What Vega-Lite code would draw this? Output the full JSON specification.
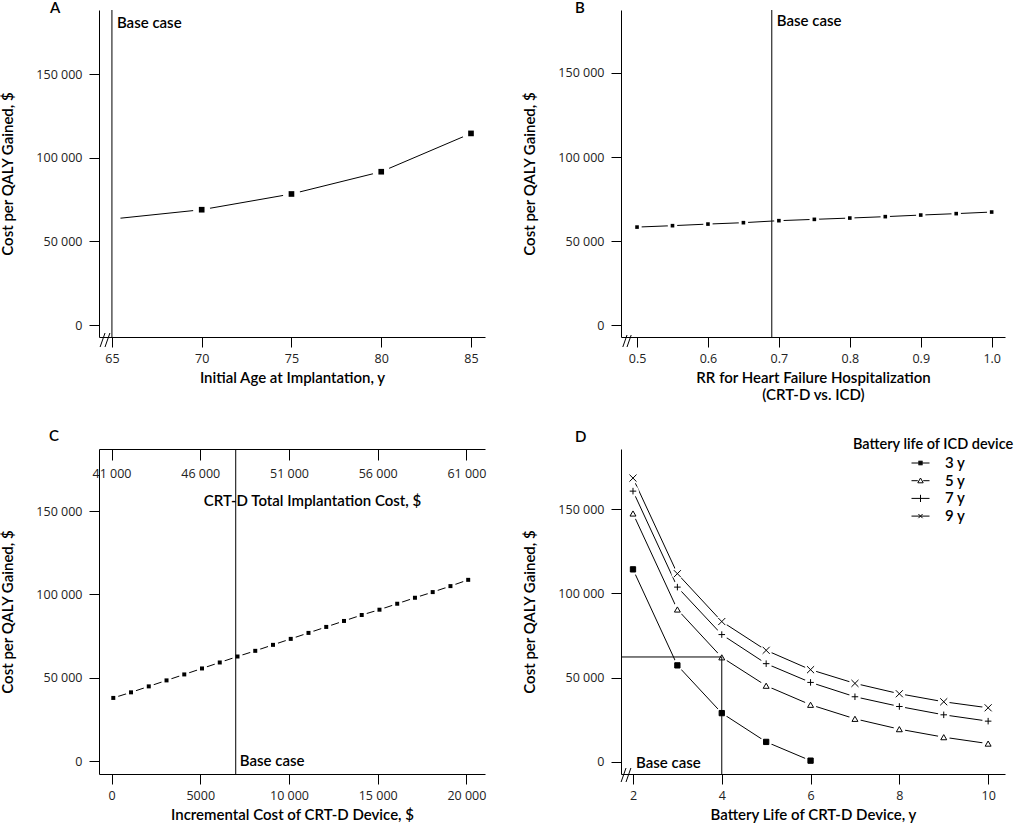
{
"$schema": "https://vega.github.io/schema/vega-lite/v6.json",
"padding": {"left": 0, "top": 0, "right": 0, "bottom": 0},
"columns": 2,
"bounds": "flush",
"spacing": {"row": 112, "column": 136},
"concat": [
{
"width": 386, "height": 327,
"title": {"text": "A", "dx": -49, "offset": -6},
"layer": [
 {"data": {"values": [{"x":65,"y":63300},{"x":70,"y":68900},{"x":75,"y":78300},{"x":80,"y":91600},{"x":85,"y":114500}]},
  "mark": {"type": "line", "color": "black", "strokeWidth": 1},
  "encoding": {
   "x": {"field": "x", "type": "quantitative", "scale": {"domain": [64.28, 85.78], "nice": false, "zero": false}, "axis": {"values": [65,70,75,80,85], "title": "Initial Age at Implantation, y"}},
   "y": {"field": "y", "type": "quantitative", "scale": {"domain": [-7170, 188250], "nice": false, "zero": false}, "axis": {"values": [0,50000,100000,150000], "title": "Cost per QALY Gained, $", "labelExpr": "datum.value >= 10000 ? replace(format(datum.value, ','), ',', ' ') : format(datum.value, 'd')"}}}},
 {"data": {"values": [{"x":65,"y":63300},{"x":70,"y":68900},{"x":75,"y":78300},{"x":80,"y":91600},{"x":85,"y":114500}]},
  "mark": {"type": "point", "shape": "circle", "filled": true, "color": "white", "opacity": 1, "size": 300},
  "encoding": {
   "x": {"field": "x", "type": "quantitative", "scale": {"domain": [64.28, 85.78], "nice": false, "zero": false}},
   "y": {"field": "y", "type": "quantitative", "scale": {"domain": [-7170, 188250], "nice": false, "zero": false}}}},
 {"data": {"values": [{"x":70,"y":68900},{"x":75,"y":78300},{"x":80,"y":91600},{"x":85,"y":114500}]},
  "mark": {"type": "point", "shape": "square", "filled": true, "color": "black", "opacity": 1, "size": 32},
  "encoding": {
   "x": {"field": "x", "type": "quantitative", "scale": {"domain": [64.28, 85.78], "nice": false, "zero": false}},
   "y": {"field": "y", "type": "quantitative", "scale": {"domain": [-7170, 188250], "nice": false, "zero": false}}}},
 {"data": {"values": [{"x": 65, "y": -7170, "y2": 188250}]},
  "mark": {"type": "rule", "color": "black", "strokeWidth": 1},
  "encoding": {
   "x": {"field": "x", "type": "quantitative", "scale": {"domain": [64.28, 85.78], "nice": false, "zero": false}},
   "y": {"field": "y", "type": "quantitative", "scale": {"domain": [-7170, 188250], "nice": false, "zero": false}},
   "y2": {"field": "y2"}}},
 {"data": {"values": [{"x": 65, "y": 177300, "t": "Base case"}]},
  "mark": {"type": "text", "align": "left", "baseline": "alphabetic", "dx": 5, "fontSize": 15, "fontWeight": 600, "color": "black"},
  "encoding": {
   "x": {"field": "x", "type": "quantitative", "scale": {"domain": [64.28, 85.78], "nice": false, "zero": false}},
   "y": {"field": "y", "type": "quantitative", "scale": {"domain": [-7170, 188250], "nice": false, "zero": false}},
   "text": {"field": "t"}}},
 {"data": {"values": [{"x": 64.28, "y": -7170}]},
  "mark": {"type": "point", "shape": "M-0.7,1L0,-1M0,1L0.7,-1", "filled": false, "color": "black", "strokeWidth": 1, "opacity": 1, "size": 196, "xOffset": 6, "yOffset": 3},
  "encoding": {
   "x": {"field": "x", "type": "quantitative", "scale": {"domain": [64.28, 85.78], "nice": false, "zero": false}},
   "y": {"field": "y", "type": "quantitative", "scale": {"domain": [-7170, 188250], "nice": false, "zero": false}}}}
]
},
{
"width": 384, "height": 327,
"title": {"text": "B", "dx": -46, "offset": -6},
"layer": [
 {"data": {"name": "bb"},
  "mark": {"type": "line", "color": "black", "strokeWidth": 1},
  "encoding": {
   "x": {"field": "x", "type": "quantitative", "scale": {"domain": [0.4774, 1.0188], "nice": false, "zero": false}, "axis": {"values": [0.5,0.6,0.7,0.8,0.9,1.0], "format": ".1f", "title": ["RR for Heart Failure Hospitalization", "(CRT-D vs. ICD)"], "titleLineHeight": 17}},
   "y": {"field": "y", "type": "quantitative", "scale": {"domain": [-6900, 187370], "nice": false, "zero": false}, "axis": {"values": [0,50000,100000,150000], "title": "Cost per QALY Gained, $", "labelExpr": "datum.value >= 10000 ? replace(format(datum.value, ','), ',', ' ') : format(datum.value, 'd')"}}}},
 {"data": {"name": "bb"},
  "mark": {"type": "point", "shape": "circle", "filled": true, "color": "white", "opacity": 1, "size": 90},
  "encoding": {
   "x": {"field": "x", "type": "quantitative", "scale": {"domain": [0.4774, 1.0188], "nice": false, "zero": false}},
   "y": {"field": "y", "type": "quantitative", "scale": {"domain": [-6900, 187370], "nice": false, "zero": false}}}},
 {"data": {"name": "bb"},
  "mark": {"type": "point", "shape": "square", "filled": true, "color": "black", "opacity": 1, "size": 13},
  "encoding": {
   "x": {"field": "x", "type": "quantitative", "scale": {"domain": [0.4774, 1.0188], "nice": false, "zero": false}},
   "y": {"field": "y", "type": "quantitative", "scale": {"domain": [-6900, 187370], "nice": false, "zero": false}}}},
 {"data": {"values": [{"x": 0.69, "y": -6900, "y2": 187370}]},
  "mark": {"type": "rule", "color": "black", "strokeWidth": 1},
  "encoding": {
   "x": {"field": "x", "type": "quantitative", "scale": {"domain": [0.4774, 1.0188], "nice": false, "zero": false}},
   "y": {"field": "y", "type": "quantitative", "scale": {"domain": [-6900, 187370], "nice": false, "zero": false}},
   "y2": {"field": "y2"}}},
 {"data": {"values": [{"x": 0.69, "y": 177830, "t": "Base case"}]},
  "mark": {"type": "text", "align": "left", "baseline": "alphabetic", "dx": 5, "fontSize": 15, "fontWeight": 600, "color": "black"},
  "encoding": {
   "x": {"field": "x", "type": "quantitative", "scale": {"domain": [0.4774, 1.0188], "nice": false, "zero": false}},
   "y": {"field": "y", "type": "quantitative", "scale": {"domain": [-6900, 187370], "nice": false, "zero": false}},
   "text": {"field": "t"}}},
 {"data": {"values": [{"x": 0.4774, "y": -6900}]},
  "mark": {"type": "point", "shape": "M-0.7,1L0,-1M0,1L0.7,-1", "filled": false, "color": "black", "strokeWidth": 1, "opacity": 1, "size": 144, "xOffset": 6, "yOffset": 4},
  "encoding": {
   "x": {"field": "x", "type": "quantitative", "scale": {"domain": [0.4774, 1.0188], "nice": false, "zero": false}},
   "y": {"field": "y", "type": "quantitative", "scale": {"domain": [-6900, 187370], "nice": false, "zero": false}}}}
]
},
{
"width": 386, "height": 325,
"title": {"text": "C", "dx": -50, "offset": 5},
"resolve": {"axis": {"x": "independent"}},
"layer": [
 {"layer": [
  {"data": {"name": "cc"},
   "mark": {"type": "line", "color": "black", "strokeWidth": 1},
   "encoding": {
    "x": {"field": "x", "type": "quantitative", "scale": {"domain": [-705, 21047], "nice": false, "zero": false}, "axis": {"values": [0,5000,10000,15000,20000], "title": "Incremental Cost of CRT-D Device, $", "labelExpr": "datum.value >= 10000 ? replace(format(datum.value, ','), ',', ' ') : format(datum.value, 'd')"}},
    "y": {"field": "y", "type": "quantitative", "scale": {"domain": [-7770, 187290], "nice": false, "zero": false}, "axis": {"values": [0,50000,100000,150000], "title": "Cost per QALY Gained, $", "labelExpr": "datum.value >= 10000 ? replace(format(datum.value, ','), ',', ' ') : format(datum.value, 'd')"}}}},
  {"data": {"name": "cc"},
   "mark": {"type": "point", "shape": "circle", "filled": true, "color": "white", "opacity": 1, "size": 113},
   "encoding": {
    "x": {"field": "x", "type": "quantitative", "scale": {"domain": [-705, 21047], "nice": false, "zero": false}},
    "y": {"field": "y", "type": "quantitative", "scale": {"domain": [-7770, 187290], "nice": false, "zero": false}}}},
  {"data": {"name": "cc"},
   "mark": {"type": "point", "shape": "square", "filled": true, "color": "black", "opacity": 1, "size": 16},
   "encoding": {
    "x": {"field": "x", "type": "quantitative", "scale": {"domain": [-705, 21047], "nice": false, "zero": false}},
    "y": {"field": "y", "type": "quantitative", "scale": {"domain": [-7770, 187290], "nice": false, "zero": false}}}},
  {"data": {"values": [{"x": 7000, "y": -2750, "t": "Base case"}]},
   "mark": {"type": "text", "align": "left", "baseline": "alphabetic", "dx": 4, "fontSize": 15, "fontWeight": 600, "color": "black"},
   "encoding": {
    "x": {"field": "x", "type": "quantitative", "scale": {"domain": [-705, 21047], "nice": false, "zero": false}},
    "y": {"field": "y", "type": "quantitative", "scale": {"domain": [-7770, 187290], "nice": false, "zero": false}},
    "text": {"field": "t"}}}
 ]},
 {"data": {"values": [{"x": 7000}]},
  "mark": {"type": "rule", "color": "black", "strokeWidth": 1},
  "encoding": {
   "x": {"field": "x", "type": "quantitative", "scale": {"domain": [-705, 21047], "nice": false, "zero": false}, "axis": {"orient": "top", "values": [0,5000,10000,15000,20000], "labelExpr": "replace(format(datum.value + 41000, ','), ',', ' ')", "title": "CRT-D Total Implantation Cost, $", "tickSize": -11, "labelPadding": -13, "labelBaseline": "middle", "titleX": 213, "titleY": 51, "titleBaseline": "middle", "titleAlign": "center", "titlePadding": 0}}}}
]
},
{
"width": 384, "height": 325,
"title": {"text": "D", "dx": -46, "offset": -7},
"resolve": {"scale": {"shape": "independent", "fill": "independent", "size": "independent"}},
"layer": [
 {"data": {"name": "dd"},
  "mark": {"type": "line", "color": "black", "strokeWidth": 1},
  "encoding": {
   "x": {"field": "x", "type": "quantitative", "scale": {"domain": [1.73, 10.38], "nice": false, "zero": false}, "axis": {"values": [2,4,6,8,10], "title": "Battery Life of CRT-D Device, y"}},
   "y": {"field": "y", "type": "quantitative", "scale": {"domain": [-7330, 185760], "nice": false, "zero": false}, "axis": {"values": [0,50000,100000,150000], "title": "Cost per QALY Gained, $", "labelExpr": "datum.value >= 10000 ? replace(format(datum.value, ','), ',', ' ') : format(datum.value, 'd')"}},
   "detail": {"field": "icd", "type": "nominal"}}},
 {"data": {"name": "dd"},
  "mark": {"type": "point", "shape": "circle", "filled": true, "color": "white", "opacity": 1, "size": 140},
  "encoding": {
   "x": {"field": "x", "type": "quantitative", "scale": {"domain": [1.73, 10.38], "nice": false, "zero": false}},
   "y": {"field": "y", "type": "quantitative", "scale": {"domain": [-7330, 185760], "nice": false, "zero": false}}}},
 {"data": {"name": "dd"},
  "mark": {"type": "point", "filled": true, "stroke": "black", "strokeWidth": 1, "opacity": 1, "fillOpacity": 1},
  "encoding": {
   "x": {"field": "x", "type": "quantitative", "scale": {"domain": [1.73, 10.38], "nice": false, "zero": false}},
   "y": {"field": "y", "type": "quantitative", "scale": {"domain": [-7330, 185760], "nice": false, "zero": false}},
   "shape": {"field": "icd", "type": "nominal", "scale": {"domain": ["3 y","5 y","7 y","9 y"], "range": ["square", "triangle-up", "M-1,0H1M0,-1V1", "M-1,-1L1,1M-1,1L1,-1"]}, "legend": null},
   "fill": {"field": "icd", "type": "nominal", "scale": {"domain": ["3 y","5 y","7 y","9 y"], "range": ["black", "white", "white", "white"]}, "legend": null},
   "size": {"field": "icd", "type": "ordinal", "scale": {"domain": ["3 y","5 y","7 y","9 y"], "range": [28, 50, 72, 30]}, "legend": null}}},
 {"data": {"name": "dd"},
  "mark": {"type": "point", "filled": false, "color": "black", "strokeWidth": 1, "opacity": 1},
  "encoding": {
   "x": {"field": "x", "type": "quantitative", "scale": {"domain": [1.73, 10.38], "nice": false, "zero": false}},
   "y": {"field": "legendonly", "type": "quantitative", "scale": {"domain": [-7330, 185760], "nice": false, "zero": false}},
   "shape": {"field": "icd", "type": "nominal", "scale": {"domain": ["3 y","5 y","7 y","9 y"], "range": ["M-1.5,0H1.5M-0.35,-0.3H0.35M-0.35,-0.2H0.35M-0.35,-0.1H0.35M-0.35,0.1H0.35M-0.35,0.2H0.35M-0.35,0.3H0.35", "M-1.5,0H-0.45M0.45,0H1.5M0,-0.45L0.45,0.35L-0.45,0.35Z", "M-1.5,0H1.5M0,-0.6V0.6", "M-1.5,0H1.5M-0.35,-0.35L0.35,0.35M-0.35,0.35L0.35,-0.35"]},
     "legend": {"title": "Battery life of ICD device", "orient": "none", "legendX": 232, "legendY": -11, "symbolSize": 144, "symbolOffset": 60, "labelOffset": 17, "rowPadding": 1.7, "titlePadding": 3, "symbolOpacity": 1, "symbolStrokeWidth": 1, "symbolStrokeColor": "black", "symbolFillColor": "transparent", "titleFont": "Lato", "titleFontSize": 14.5, "titleFontWeight": 600, "titleColor": "black", "labelFont": "Lato", "labelFontSize": 15, "labelFontWeight": 600, "labelColor": "black", "padding": 0}}}},
 {"data": {"values": [{"x": 1.73, "x2": 4, "y": 62200, "y2": 62200}, {"x": 4, "x2": 4, "y": -7330, "y2": 62200}]},
  "mark": {"type": "rule", "color": "black", "strokeWidth": 1},
  "encoding": {
   "x": {"field": "x", "type": "quantitative", "scale": {"domain": [1.73, 10.38], "nice": false, "zero": false}},
   "x2": {"field": "x2"},
   "y": {"field": "y", "type": "quantitative", "scale": {"domain": [-7330, 185760], "nice": false, "zero": false}},
   "y2": {"field": "y2"}}},
 {"data": {"values": [{"x": 2.07, "y": -3930, "t": "Base case"}]},
  "mark": {"type": "text", "align": "left", "baseline": "alphabetic", "fontSize": 15, "fontWeight": 600, "color": "black"},
  "encoding": {
   "x": {"field": "x", "type": "quantitative", "scale": {"domain": [1.73, 10.38], "nice": false, "zero": false}},
   "y": {"field": "y", "type": "quantitative", "scale": {"domain": [-7330, 185760], "nice": false, "zero": false}},
   "text": {"field": "t"}}},
 {"data": {"values": [{"x": 1.73, "y": -7330}]},
  "mark": {"type": "point", "shape": "M-0.7,1L0,-1M0,1L0.7,-1", "filled": false, "color": "black", "strokeWidth": 1, "opacity": 1, "size": 196, "xOffset": 5, "yOffset": 1},
  "encoding": {
   "x": {"field": "x", "type": "quantitative", "scale": {"domain": [1.73, 10.38], "nice": false, "zero": false}},
   "y": {"field": "y", "type": "quantitative", "scale": {"domain": [-7330, 185760], "nice": false, "zero": false}}}}
]
}
],
"datasets": {
 "bb": [{"x":0.5,"y":58400},{"x":0.55,"y":59240},{"x":0.6,"y":60190},{"x":0.65,"y":61020},{"x":0.7,"y":62210},{"x":0.75,"y":62990},{"x":0.8,"y":63770},{"x":0.85,"y":64600},{"x":0.9,"y":65550},{"x":0.95,"y":66390},{"x":1.0,"y":67340}],
 "cc": [{"x":100,"y":37890},{"x":1100,"y":41240},{"x":2100,"y":44820},{"x":3100,"y":48410},{"x":4100,"y":51990},{"x":5100,"y":55580},{"x":6100,"y":59160},{"x":7100,"y":62750},{"x":8100,"y":66150},{"x":9100,"y":69740},{"x":10100,"y":73330},{"x":11100,"y":76910},{"x":12100,"y":80500},{"x":13100,"y":84080},{"x":14100,"y":87670},{"x":15100,"y":90840},{"x":16100,"y":94420},{"x":17100,"y":98010},{"x":18100,"y":101410},{"x":19100,"y":105000},{"x":20100,"y":108760}],
 "dd": [
  {"icd":"3 y","x":2,"y":114250},{"icd":"3 y","x":3,"y":57210},{"icd":"3 y","x":4,"y":28840},{"icd":"3 y","x":5,"y":11740},{"icd":"3 y","x":6,"y":600},
  {"icd":"5 y","x":2,"y":147440},{"icd":"5 y","x":3,"y":90410},{"icd":"5 y","x":4,"y":61980},{"icd":"5 y","x":5,"y":45110},{"icd":"5 y","x":6,"y":33790},{"icd":"5 y","x":7,"y":25450},{"icd":"5 y","x":8,"y":19310},{"icd":"5 y","x":9,"y":14540},{"icd":"5 y","x":10,"y":10730},
  {"icd":"7 y","x":2,"y":160730},{"icd":"7 y","x":3,"y":103700},{"icd":"7 y","x":4,"y":75510},{"icd":"7 y","x":5,"y":58220},{"icd":"7 y","x":6,"y":47080},{"icd":"7 y","x":7,"y":38560},{"icd":"7 y","x":8,"y":32780},{"icd":"7 y","x":9,"y":27830},{"icd":"7 y","x":10,"y":24070},
  {"icd":"9 y","x":2,"y":168470},{"icd":"9 y","x":3,"y":111680},{"icd":"9 y","x":4,"y":83250},{"icd":"9 y","x":5,"y":66150},{"icd":"9 y","x":6,"y":54650},{"icd":"9 y","x":7,"y":46500},{"icd":"9 y","x":8,"y":40350},{"icd":"9 y","x":9,"y":35580},{"icd":"9 y","x":10,"y":32000}
 ]
},
"config": {
 "font": "Lato",
 "view": {"stroke": null},
 "axis": {"grid": false, "domainColor": "black", "domainWidth": 1, "tickColor": "black", "tickWidth": 1, "tickSize": 10, "labelFont": "Open Sans", "labelFontSize": 12.5, "labelFontWeight": "normal", "labelColor": "#222222", "titleFont": "Lato", "titleFontSize": 15, "titleFontWeight": 600, "titleColor": "black"},
 "axisY": {"minExtent": 62, "maxExtent": 62, "labelPadding": 7, "titlePadding": 22},
 "axisX": {"labelPadding": 5, "titlePadding": 6},
 "title": {"font": "Lato", "fontSize": 15, "fontWeight": 600, "color": "black", "anchor": "start", "frame": "group"},
 "legend": {"padding": 0}
}
}
